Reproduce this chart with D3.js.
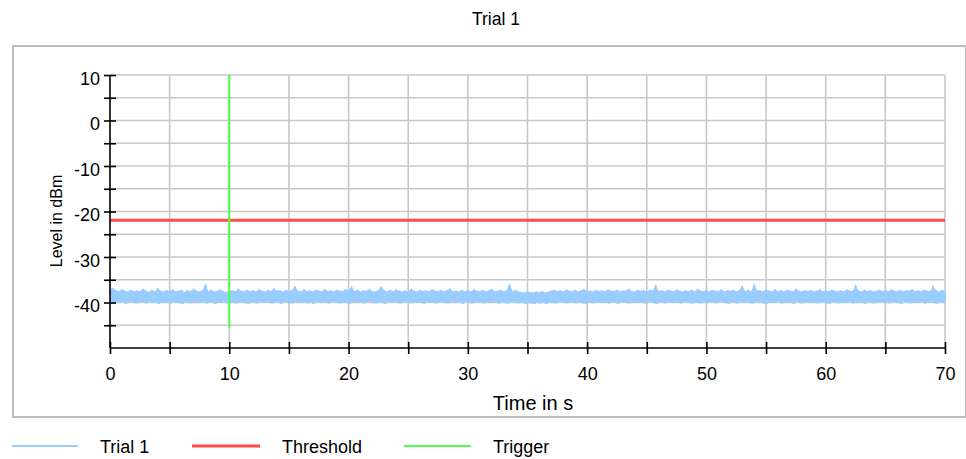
<!DOCTYPE html>
<html>
<head>
<meta charset="utf-8">
<script src="https://cdn.jsdelivr.net/npm/d3@7"></script>
<style>
  html, body { margin: 0; padding: 0; background: #fff; }
  svg { display: block; font-family: "Liberation Sans", Arial, sans-serif; }
</style>
</head>
<body>
<svg id="chart" width="966" height="459"></svg>
<script>
// ---- data ----
const chartTitle = "Trial 1";
const xLabel = "Time in s";
const yLabel = "Level in dBm";
const seriesNames = ["Trial 1", "Threshold", "Trigger"];
const seriesColors = ["#99CCFF", "#FF4C4C", "#4CFF4C"];
const xTicks = [0, 10, 20, 30, 40, 50, 60, 70];
const yTicks = [10, 0, -10, -20, -30, -40];
const timeStep = 0.25; // seconds between envelope samples
// upper envelope of Trial 1 trace (dBm), one per 0.25 s from 0 to 70 s
const trialUpper = [
-37.0,-36.8,-37.3,-37.5,-37.1,-37.4,-37.6,-37.2,-37.5,-37.3,
-37.6,-37.0,-37.4,-37.7,-37.2,-37.5,-36.9,-37.4,-37.6,-37.3,
-37.5,-37.1,-37.6,-37.4,-37.2,-37.7,-37.3,-37.5,-37.0,-37.4,
-37.6,-37.3,-35.9,-37.5,-37.2,-37.6,-37.4,-37.1,-37.5,-37.7,
-37.4,
-37.3,-37.5,-37.0,-37.4,-37.6,-37.2,-37.5,-37.3,-37.6,-37.1,
-37.4,-37.6,-37.2,-37.5,-36.9,-37.4,-37.3,-37.6,-37.2,-37.5,
-37.3,-36.4,-37.4,-37.6,-37.1,-37.5,-37.3,-37.6,-37.2,-37.4,
-37.6,-37.0,-37.5,-37.3,-37.6,-37.2,-37.4,-37.5,-37.1,-37.4,
-36.5,-37.5,-37.2,-37.6,-37.3,-37.4,-37.0,-37.5,-37.6,-37.2,
-36.5,-37.3,-37.6,-37.2,-37.5,-37.1,-37.4,-37.6,-37.3,-37.5,
-37.0,-37.4,-37.6,-37.2,-37.5,-37.3,-37.6,-37.1,-37.4,-37.5,
-37.2,-37.6,-37.3,-36.9,-37.5,-37.4,-37.6,-37.2,-37.5,-37.3,
-37.6,-37.1,-37.4,-37.5,-37.2,-37.6,-37.3,-37.0,-37.5,-37.4,
-37.2,-37.6,-37.3,-35.9,-37.5,-37.2,-37.6,-37.7,-37.8,-37.6,
-37.7,-37.8,-37.6,-37.7,-37.5,-37.8,-37.6,-37.4,-37.2,-37.5,
-37.3,-37.6,-37.1,-37.4,-37.5,-37.2,-37.6,-37.3,-37.0,-37.5,
-37.4,-37.6,-37.2,-37.5,-37.3,-37.6,-37.1,-37.4,-37.5,-37.2,
-37.6,-37.3,-37.4,-37.0,-37.5,-37.6,-37.2,-37.4,-37.3,-37.6,
-37.2,-37.4,-36.1,-37.5,-37.3,-37.6,-37.2,-37.4,-37.5,-37.1,
-37.4,-37.6,-37.3,-37.5,-37.2,-37.6,-37.0,-37.4,-37.5,-37.3,
-37.6,-37.2,-37.4,-37.5,-37.1,-37.6,-37.3,-37.4,-37.2,-37.5,
-37.3,-36.3,-37.5,-37.2,-37.6,-36.0,-37.4,-37.3,-37.5,-37.2,
-37.4,-37.6,-37.1,-37.5,-37.3,-37.6,-37.2,-37.4,-37.5,-37.0,
-37.4,-37.6,-37.3,-37.5,-37.2,-37.6,-37.4,-37.1,-37.5,-37.3,
-37.6,-37.2,-37.4,-37.5,-37.3,-37.6,-37.1,-37.4,-37.5,-36.1,
-37.4,-37.6,-37.2,-37.5,-37.3,-37.6,-37.4,-37.2,-37.5,-37.3,
-37.6,-37.1,-37.4,-37.5,-37.2,-37.6,-37.3,-37.4,-37.0,-37.5,
-37.3,-37.6,-37.2,-37.4,-37.5,-36.3,-37.3,-37.6,-37.2,-37.5
];
// lower envelope of Trial 1 trace (dBm), half a step after each upper sample
const trialLower = [
-40.0,-40.2,-39.8,-40.1,-39.9,-40.3,-40.0,-39.8,-40.1,-40.2,
-39.9,-40.0,-40.2,-39.8,-40.1,-40.0,-40.3,-39.9,-40.1,-39.8,
-40.2,-40.0,-39.9,-40.1,-40.3,-39.8,-40.0,-40.2,-39.9,-40.1,
-40.0,-39.8,-40.2,-40.1,-39.9,-40.3,-40.0,-40.1,-39.8,-40.2,
-40.1,
-39.9,-40.2,-40.0,-39.8,-40.1,-40.3,-39.9,-40.0,-40.2,-39.8,
-40.1,-40.0,-39.9,-40.2,-40.1,-39.8,-40.3,-40.0,-39.9,-40.1,
-40.2,-39.8,-40.0,-40.1,-39.9,-40.2,-40.0,-40.3,-39.8,-40.1,
-40.0,-39.9,-40.2,-40.1,-39.8,-40.0,-40.2,-39.9,-40.1,-40.3,
-39.8,-40.0,-40.1,-39.9,-40.2,-40.0,-39.8,-40.1,-40.2,-39.9,
-40.0,-40.3,-39.8,-40.1,-40.0,-39.9,-40.2,-40.1,-39.8,-40.0,
-40.2,-39.9,-40.1,-40.0,-40.3,-39.8,-40.1,-39.9,-40.2,-40.0,
-39.8,-40.1,-40.2,-39.9,-40.0,-40.1,-39.8,-40.3,-40.0,-39.9,
-40.2,-40.1,-39.8,-40.0,-40.2,-39.9,-40.1,-40.0,-39.8,-40.2,
-40.1,-39.9,-40.3,-40.0,-39.8,-40.1,-40.2,-40.0,-40.3,-40.1,
-40.2,-40.3,-40.1,-40.2,-40.0,-40.3,-40.1,-39.9,-40.2,-40.0,
-39.8,-40.1,-40.2,-39.9,-40.0,-40.2,-39.8,-40.1,-40.3,-39.9,
-40.0,-40.2,-39.8,-40.1,-40.0,-39.9,-40.2,-40.1,-39.8,-40.3,
-40.0,-39.9,-40.1,-40.2,-39.8,-40.0,-40.1,-39.9,-40.2,-40.0,
-39.8,-40.1,-40.3,-39.9,-40.0,-40.2,-39.8,-40.1,-40.0,-39.9,
-40.2,-40.1,-39.8,-40.0,-40.3,-39.9,-40.1,-40.2,-39.8,-40.0,
-40.1,-39.9,-40.2,-40.0,-39.8,-40.1,-40.3,-39.9,-40.0,-40.2,
-39.8,-40.1,-40.0,-39.9,-40.2,-40.1,-39.8,-40.0,-40.2,-40.3,
-39.9,-40.1,-40.0,-39.8,-40.2,-40.1,-39.9,-40.0,-40.3,-39.8,
-40.1,-40.2,-39.9,-40.0,-40.1,-39.8,-40.2,-40.0,-39.9,-40.1,
-40.3,-39.8,-40.0,-40.2,-39.9,-40.1,-40.0,-39.8,-40.2,-40.1,
-39.9,-40.0,-40.3,-39.8,-40.1,-40.2,-39.9,-40.0,-40.1,-39.8,
-40.2,-40.0,-39.9,-40.1,-40.3,-39.8,-40.0,-40.2,-39.9,-40.1,
-40.0,-39.8,-40.2,-40.1,-39.9,-40.0,-40.3,-39.8,-40.1,-40.0
];
const trialSpike = [10, 5];       // [s, dBm] brief spike of the trace at the trigger
const thresholdLevel = -21.9;     // dBm, constant over the run
const triggerTime = 10;           // s
const triggerRange = [10, -45.5]; // dBm span of the trigger marker
const xDomain = [0, 70];
const yDomain = [-50, 10];

// ---- layout ----
const svg = d3.select("#chart");
const plot = { left: 110, right: 945, top: 75, bottom: 348 };
const FONT = "'Liberation Sans', Arial, sans-serif";

const x = d3.scaleLinear().domain(xDomain).range([plot.left, plot.right]);
const y = d3.scaleLinear().domain(yDomain).range([plot.bottom, plot.top]);

// outer frame
svg.append("rect")
  .attr("x", 13).attr("y", 46).attr("width", 953).attr("height", 371)
  .attr("fill", "none").attr("stroke", "#BDBDBD").attr("stroke-width", 2);

// title
svg.append("text").attr("x", 496).attr("y", 25).attr("text-anchor", "middle")
  .attr("font-size", 17.6).attr("fill", "#000").text(chartTitle);

// grid
const gridX = d3.range(xDomain[0] + 5, xDomain[1] + 0.1, 5);
const gridY = d3.range(yDomain[0] + 5, yDomain[1] + 0.1, 5);
svg.append("g").selectAll("line").data(gridX).join("line")
  .attr("x1", d => x(d)).attr("x2", d => x(d))
  .attr("y1", y(yDomain[1])).attr("y2", y(yDomain[0]))
  .attr("stroke", "#C8C8C8").attr("stroke-width", 1.6);
svg.append("g").selectAll("line").data(gridY).join("line")
  .attr("x1", x(xDomain[0])).attr("x2", x(xDomain[1]))
  .attr("y1", d => y(d)).attr("y2", d => y(d))
  .attr("stroke", "#C8C8C8").attr("stroke-width", 1.6);

// trial trace: filled band between envelopes + zigzag line for the ragged edges
const env = trialUpper.map((u, i) => ({ t: Math.min(i * timeStep, xDomain[1]), u, l: trialLower[i] }));
const area = d3.area().x(d => x(d.t)).y0(d => y(d.l)).y1(d => y(d.u));
svg.append("path").datum(env).attr("d", area)
  .attr("fill", seriesColors[0]).attr("stroke", "none");

const trialPts = [];
trialUpper.forEach((u, i) => {
  const t = i * timeStep;
  trialPts.push([t, u]);
  if (t === trialSpike[0]) { trialPts.push(trialSpike); trialPts.push([t, u]); }
  trialPts.push([Math.min(t + timeStep / 2, xDomain[1]), trialLower[i]]);
});
const line = d3.line().x(d => x(d[0])).y(d => y(d[1]));
svg.append("path").datum(trialPts)
  .attr("d", line).attr("fill", "none")
  .attr("stroke", seriesColors[0]).attr("stroke-width", 1.4);

// threshold
svg.append("path").datum([[xDomain[0], thresholdLevel], [xDomain[1], thresholdLevel]])
  .attr("d", line).attr("fill", "none")
  .attr("stroke", seriesColors[1]).attr("stroke-width", 3);

// trigger
svg.append("path").datum([[triggerTime, triggerRange[0]], [triggerTime, triggerRange[1]]])
  .attr("d", line).attr("fill", "none")
  .attr("stroke", seriesColors[2]).attr("stroke-width", 2);

// axes
const xAxis = d3.axisBottom(x).tickValues(d3.range(0, 70.1, 5)).tickSize(6)
  .tickFormat(d => xTicks.includes(d) ? String(d) : "");
const gx = svg.append("g").attr("transform", `translate(0,${plot.bottom})`).call(xAxis)
  .attr("font-family", FONT).attr("font-size", 18);
gx.select(".domain").attr("d", `M${plot.left},0H${plot.right}`).attr("stroke", "#000").attr("stroke-width", 1.6);
gx.selectAll(".tick line").attr("y1", -6).attr("y2", 6).attr("stroke", "#000").attr("stroke-width", 1.6);
gx.selectAll(".tick text").attr("y", 32).attr("dy", 0).attr("fill", "#000");

const yAxis = d3.axisLeft(y).tickValues(d3.range(-45, 10.1, 5)).tickSize(6)
  .tickFormat(d => yTicks.includes(d) ? String(d) : "");
const gy = svg.append("g").attr("transform", `translate(${plot.left},0)`).call(yAxis)
  .attr("font-family", FONT).attr("font-size", 18);
gy.select(".domain").attr("d", `M0,${plot.top}V${plot.bottom}`).attr("stroke", "#000").attr("stroke-width", 1.6);
gy.selectAll(".tick line").attr("x1", -6).attr("x2", 6).attr("stroke", "#000").attr("stroke-width", 1.6);
gy.selectAll(".tick text").attr("x", -10).attr("dy", 9).attr("fill", "#000");

// axis titles
svg.append("text").attr("x", 533).attr("y", 410).attr("text-anchor", "middle")
  .attr("font-size", 20).attr("fill", "#000").text(xLabel);
svg.append("text").attr("transform", "translate(62,221) rotate(-90)")
  .attr("text-anchor", "middle").attr("font-size", 16).attr("fill", "#000").text(yLabel);

// legend
const legendItems = [
  { name: seriesNames[0], color: seriesColors[0], width: 2, x1: 12, x2: 78, tx: 100 },
  { name: seriesNames[1], color: seriesColors[1], width: 3, x1: 192, x2: 260, tx: 282 },
  { name: seriesNames[2], color: seriesColors[2], width: 2, x1: 404, x2: 471, tx: 493 }
];
const lg = svg.append("g");
legendItems.forEach(it => {
  lg.append("line").attr("x1", it.x1).attr("x2", it.x2).attr("y1", 446).attr("y2", 446)
    .attr("stroke", it.color).attr("stroke-width", it.width);
  lg.append("text").attr("x", it.tx).attr("y", 453).attr("font-size", 18)
    .attr("fill", "#000").text(it.name);
});
</script>
</body>
</html>
